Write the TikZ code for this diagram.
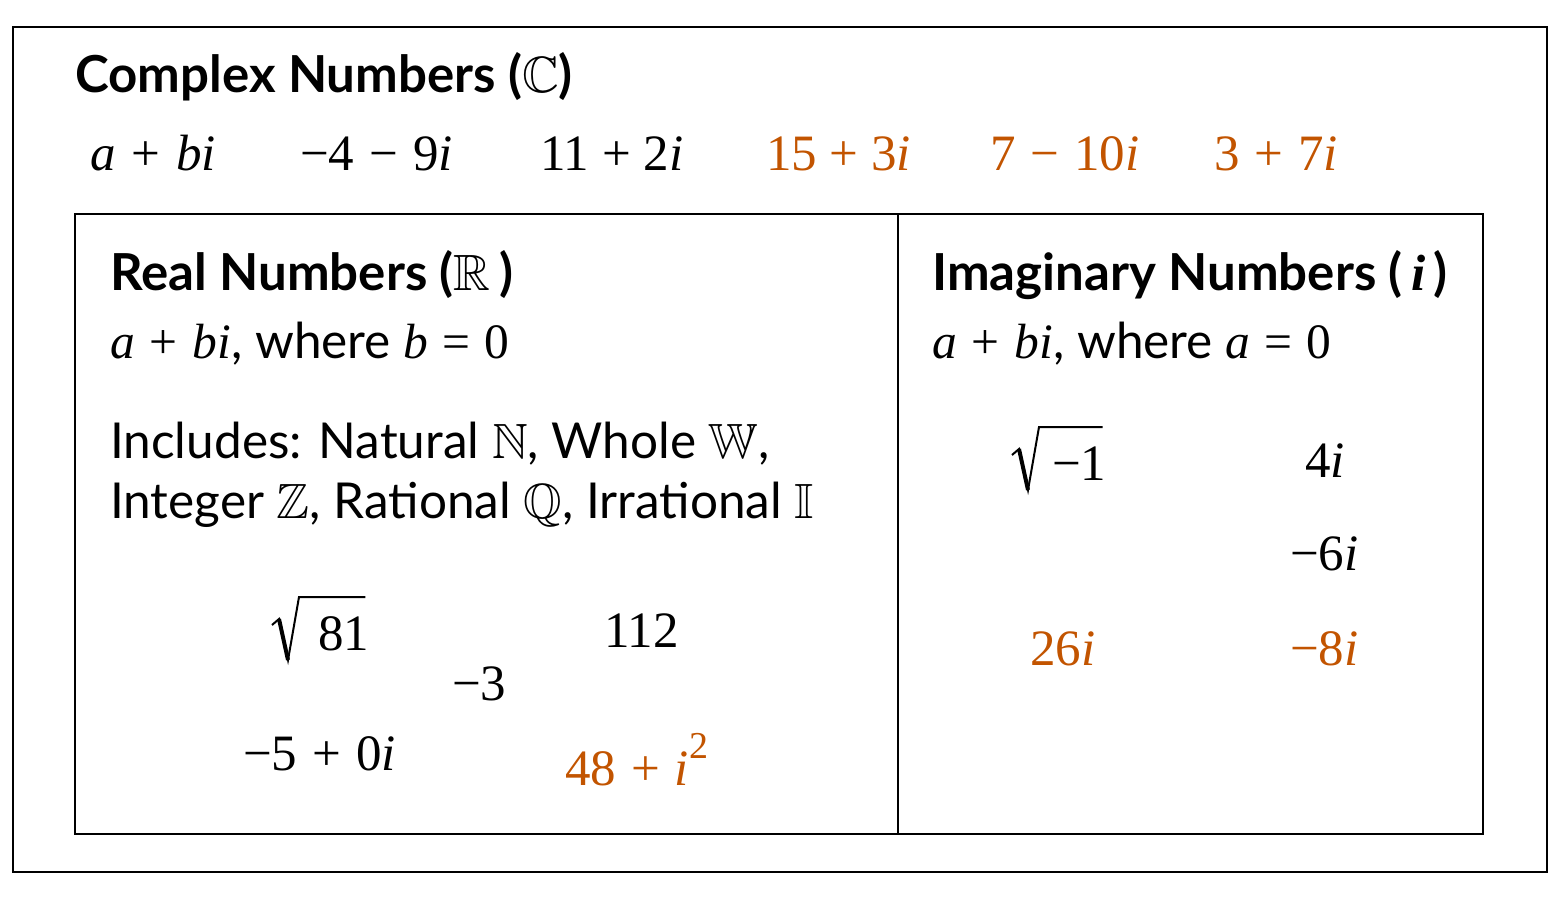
\documentclass[tikz,border=0pt]{standalone}
\usepackage{fontspec}
\usepackage{amssymb}
\setmainfont{Liberation Serif}
\setsansfont{Lato}
\usetikzlibrary{calc}
\definecolor{org}{RGB}{194,84,0}
\newcommand\V[1]{{\rmfamily\itshape #1}}
\newcommand\N[1]{{\rmfamily\upshape #1}}
\newcommand\I[1]{{\itshape #1}}
\newcommand\bb[1]{$\mathbb{#1}$}
\newcommand\gap[1]{\hspace{#1pt}}
\tikzset{
  head/.style={anchor=base west, inner sep=0pt, font=\fontsize{51}{61}\selectfont\sffamily\bfseries},
  body/.style={anchor=base west, inner sep=0pt, font=\fontsize{49.5}{59}\selectfont\sffamily},
  num/.style={anchor=base west, inner sep=0pt, font=\fontsize{51}{61}\selectfont\rmfamily},
  hl/.style={text=org},
  boxline/.style={draw, line width=2pt},
  radthin/.style={line width=2pt, line join=miter},
  radthick/.style={line width=4pt, line cap=butt}
}
\begin{document}
\begin{tikzpicture}[x=1pt,y=-1pt]
\useasboundingbox (0,0) rectangle (1560,900);
% boxes
\draw[boxline] (13,27) rectangle (1547,872);
\draw[boxline] (75,214) rectangle (1483,834);
\draw[boxline] (898,214) -- (898,834);

% complex
\node[head] (ctitle) at (75,92) {Complex Numbers (\bb{C})};
\node[num] (c1) at (90,170) {\I{a}\gap{16}+\gap{16}\I{bi}};
\node[num] (c2) at (300,170) {−4\gap{15}−\gap{15}9\I{i}};
\node[num] (c3) at (540,170) {11 + 2\I{i}};
\node[num,hl] (c4) at (766,170) {15 + 3\I{i}};
\node[num,hl] (c5) at (990,170) {7\gap{15}−\gap{15}10\I{i}};
\node[num,hl] (c6) at (1214,170) {3\gap{15}+\gap{15}7\I{i}};

% real
\node[head] (rtitle) at (110,290) {Real Numbers (\bb{R}\,)};
\node[body] (rdef) at (110,358) {\V{a}\gap{15}\N{+}\gap{15}\V{bi}, where \V{b}\gap{14}\N{=}\gap{14}\N{0}};
\node[body] (rinc1) at (110,458) {Includes: Natural \bb{N}, Whole \bb{W},};
\node[body] (rinc2) at (110,518) {Integer \bb{Z}, Rational \bb{Q}, Irrational \bb{I}};
\node[num] (r81) at (318,650) {81};
\node[num] (r112) at (604,647) {112};
\node[num] (rm3) at (452,700) {−3};
\node[num] (rm5) at (243,770) {−5\gap{15}+\gap{15}0\I{i}};
\node[num,hl] (r48) at (565,785) {48\gap{15}+\gap{15}\I{i}\raisebox{27pt}{\fontsize{38}{38}\selectfont 2}};

% imaginary
\node[head] (ititle) at (932,290) {Imaginary Numbers (\,{\rmfamily\bfseries\itshape i}\gap{8})};
\node[body] (idef) at (932,358) {\V{a}\gap{15}\N{+}\gap{15}\V{bi}, where \V{a}\gap{14}\N{=}\gap{14}\N{0}};
\node[num] (isq) at (1052,480) {−1};
\node[num] (i4) at (1305,477) {4\I{i}};
\node[num] (i6) at (1290,570) {−6\I{i}};
\node[num,hl] (i26) at (1030,665) {26\I{i}};
\node[num,hl] (i8) at (1290,665) {−8\I{i}};

% radicals
\foreach \n/\d in {r81/0,isq/6}{
  \draw[radthin] ($(\n.base west)+(-46+\d,-25)$) -- ++(7,-6) -- ++(9,41) -- ++(11,-63) -- ($(\n.base east)+(-4,-53)$);
  \draw[radthick] ($(\n.base west)+(-39+\d,-31)$) -- ++(9,41);
}
\end{tikzpicture}
\end{document}
